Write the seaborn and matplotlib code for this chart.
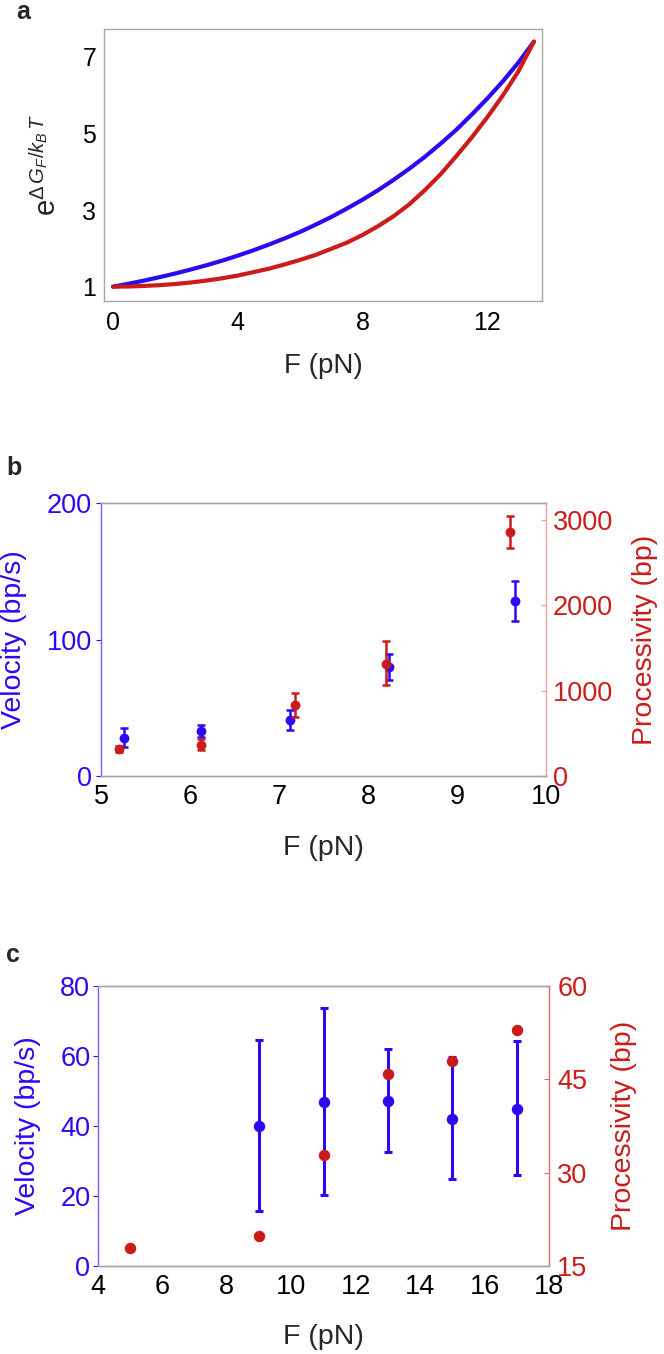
import numpy as np
import pandas as pd
import matplotlib
matplotlib.use("Agg")
import matplotlib.pyplot as plt
import seaborn as sns

# ---------------- data ----------------
# panel a : exp(dG_F / kBT) vs force
F_a = [0, 0.5, 1, 1.5, 2, 2.5, 3, 3.5, 4, 4.5, 5, 5.5, 6, 6.5, 7, 7.5, 8, 8.5,
       9, 9.5, 10, 10.5, 11, 11.5, 12, 12.5, 13, 13.5]
boltz_blue = [1.00, 1.077, 1.16, 1.25, 1.345, 1.45, 1.56, 1.68, 1.81, 1.95, 2.10, 2.26,
              2.43, 2.62, 2.82, 3.04, 3.27, 3.52, 3.79, 4.08, 4.39, 4.73, 5.09, 5.49,
              5.91, 6.36, 6.85, 7.40]
boltz_red = [1.00, 1.005, 1.02, 1.04, 1.07, 1.11, 1.16, 1.22, 1.29, 1.38, 1.47, 1.58,
             1.70, 1.83, 1.99, 2.15, 2.35, 2.58, 2.84, 3.15, 3.52, 3.93, 4.40, 4.89,
             5.42, 5.99, 6.62, 7.40]

# panel b
F_b_vel = [5.26, 6.12, 7.12, 8.24, 9.65]
vel_b = [28.0, 33.3, 40.9, 80.0, 128.2]
vel_b_lo = [21.0, 28.7, 33.8, 70.6, 113.6]
vel_b_hi = [35.0, 37.7, 48.2, 89.3, 142.8]
F_b_proc = [5.20, 6.12, 7.18, 8.20, 9.60]
proc_b = [319, 366, 829, 1316, 2861]
proc_b_lo = [285, 300, 693, 1063, 2671]
proc_b_hi = [352, 428, 973, 1577, 3052]

# panel c
F_c_vel = [9, 11, 13, 15, 17]
vel_c = [40.1, 47.0, 47.2, 42.0, 44.9]
vel_c_lo = [15.8, 20.3, 32.6, 24.8, 25.9]
vel_c_hi = [64.5, 73.8, 62.1, 59.7, 64.2]
F_c_proc = [5, 9, 11, 13, 15, 17]
proc_c = [17.95, 19.9, 32.9, 45.9, 47.9, 52.97]

# tick labels
a_xticks = [0, 4, 8, 12]
a_yticks = [1, 3, 5, 7]
b_xticks = [5, 6, 7, 8, 9, 10]
b_vticks = [0, 100, 200]
b_pticks = [0, 1000, 2000, 3000]
c_xticks = [4, 6, 8, 10, 12, 14, 16, 18]
c_vticks = [0, 20, 40, 60, 80]
c_pticks = [15, 30, 45, 60]

# ---------------- style ----------------
sns.set_style("white")
plt.rcParams["font.family"] = ["Liberation Sans", "DejaVu Sans"]
plt.rcParams["mathtext.fontset"] = "custom"
plt.rcParams["mathtext.rm"] = "Liberation Sans"
plt.rcParams["mathtext.it"] = "Liberation Sans:italic"
plt.rcParams["mathtext.bf"] = "Liberation Sans:bold"

BLUE = "#2a0af5"
RED = "#cc1b1b"
GRAY = "#a6a6a6"
BLUE_SP = "#6f62f7"
RED_SP_B = "#efa0a0"
RED_SP_C = "#e06a6a"

W, H = 664, 1354
fig = plt.figure(figsize=(W / 100, H / 100), dpi=100)


def rect(l, r, t, b):
    return [l / W, (H - b) / H, (r - l) / W, (b - t) / H]


def frame(ax):
    for s in ax.spines.values():
        s.set_visible(True)
        s.set_color(GRAY)
        s.set_linewidth(1.0)


# ---------------- panel a ----------------
axa = fig.add_axes(rect(104, 542, 29, 301))
df_a = pd.DataFrame({"F": F_a, "blue": boltz_blue, "red": boltz_red})
sns.lineplot(data=df_a, x="F", y="blue", ax=axa, color=BLUE, lw=3, estimator=None)
sns.lineplot(data=df_a, x="F", y="red", ax=axa, color=RED, lw=3, estimator=None)
for ln in axa.lines:
    ln.set_solid_joinstyle("round")
axa.set_xlim(-0.29, 13.76)
axa.set_ylim(0.626, 7.73)
axa.set_xticks(a_xticks)
axa.set_yticks(a_yticks)
frame(axa)
axa.tick_params(axis="y", direction="out", length=3.5, width=0.8, color=GRAY,
                pad=2, labelsize=18, labelcolor="black")
axa.tick_params(axis="x", direction="in", length=3.5, width=0.8, color=GRAY,
                pad=7, labelsize=18, labelcolor="black")
axa.set_xlabel("F (pN)", fontsize=20)
axa.xaxis.set_label_coords(0.5, -0.24)
axa.xaxis.label.set_va("center")
axa.set_ylabel(r"$\mathrm{e}^{\Delta\,G_F/k_B\,T}$", fontsize=21)
axa.yaxis.set_label_coords(-0.13, 0.5)
axa.yaxis.label.set_va("center")

# ---------------- panel b ----------------
axb = fig.add_axes(rect(101, 546, 503, 776))
axb2 = axb.twinx()
v_b = np.array(vel_b)
axb.errorbar(F_b_vel, vel_b,
             yerr=[v_b - np.array(vel_b_lo), np.array(vel_b_hi) - v_b],
             fmt="none", ecolor=BLUE, elinewidth=1.8, capsize=2.6, capthick=1.8)
sns.scatterplot(x=F_b_vel, y=vel_b, ax=axb, color=BLUE, s=50, linewidth=0, zorder=3)
p_b = np.array(proc_b)
axb2.errorbar(F_b_proc, proc_b,
              yerr=[p_b - np.array(proc_b_lo), np.array(proc_b_hi) - p_b],
              fmt="none", ecolor=RED, elinewidth=1.8, capsize=2.6, capthick=1.8)
sns.scatterplot(x=F_b_proc, y=proc_b, ax=axb2, color=RED, s=50, linewidth=0, zorder=3)
axb.set_xlim(5, 10)
axb.set_ylim(0, 200)
axb2.set_ylim(0, 3200)
axb.set_xticks(b_xticks)
axb.set_yticks(b_vticks)
axb2.set_yticks(b_pticks)
frame(axb)
frame(axb2)
axb.spines["left"].set_color(BLUE_SP)
axb2.spines["left"].set_visible(False)
axb2.spines["right"].set_color(RED_SP_B)
axb.spines["right"].set_visible(False)
axb.tick_params(axis="y", direction="out", length=3.5, width=0.8, colors=BLUE,
                pad=3, labelsize=19.5)
axb.tick_params(axis="x", direction="in", length=3.5, width=0.8, color=GRAY,
                pad=6, labelsize=19.5, labelcolor="black")
axb2.tick_params(axis="y", direction="in", length=3.5, width=0.8, color=RED_SP_B,
                 labelcolor=RED, pad=5, labelsize=19.5)
axb.set_xlabel("F (pN)", fontsize=20.5)
axb.xaxis.set_label_coords(0.5, -0.264)
axb.xaxis.label.set_va("center")
axb.set_ylabel("Velocity (bp/s)", fontsize=20.5, color=BLUE)
axb.yaxis.set_label_coords(-0.1955, 0.5)
axb.yaxis.label.set_va("center")
axb2.set_ylabel("Processivity (bp)", fontsize=20.5, color=RED, rotation=90)
axb2.yaxis.set_label_coords(1.2225, 0.5)
axb2.yaxis.label.set_va("center")

# ---------------- panel c ----------------
axc = fig.add_axes(rect(98, 549, 986, 1266))
axc2 = axc.twinx()
v_c = np.array(vel_c)
axc.errorbar(F_c_vel, vel_c,
             yerr=[v_c - np.array(vel_c_lo), np.array(vel_c_hi) - v_c],
             fmt="none", ecolor=BLUE, elinewidth=2.2, capsize=2.6, capthick=2.2)
sns.scatterplot(x=F_c_vel, y=vel_c, ax=axc, color=BLUE, s=68, linewidth=0, zorder=3)
sns.scatterplot(x=F_c_proc, y=proc_c, ax=axc2, color=RED, s=68, linewidth=0, zorder=3)
axc.set_xlim(4, 18)
axc.set_ylim(0, 80)
axc2.set_ylim(15, 60)
axc.set_xticks(c_xticks)
axc.set_yticks(c_vticks)
axc2.set_yticks(c_pticks)
frame(axc)
frame(axc2)
axc.spines["left"].set_color(BLUE_SP)
axc2.spines["left"].set_visible(False)
axc2.spines["right"].set_color(RED_SP_C)
axc.spines["right"].set_visible(False)
axc.tick_params(axis="y", direction="out", length=3.5, width=0.8, colors=BLUE,
                pad=2, labelsize=19.5)
axc.tick_params(axis="x", direction="in", length=3.5, width=0.8, color=GRAY,
                pad=6, labelsize=19.5, labelcolor="black")
axc2.tick_params(axis="y", direction="in", length=3.5, width=0.8, color=RED_SP_C,
                 labelcolor=RED, pad=6, labelsize=19.5)
axc.set_xlabel("F (pN)", fontsize=20.5)
axc.xaxis.set_label_coords(0.5, -0.254)
axc.xaxis.label.set_va("center")
axc.set_ylabel("Velocity (bp/s)", fontsize=20.5, color=BLUE)
axc.yaxis.set_label_coords(-0.155, 0.5)
axc.yaxis.label.set_va("center")
axc2.set_ylabel("Processivity (bp)", fontsize=20.5, color=RED, rotation=90)
axc2.yaxis.set_label_coords(1.166, 0.5)
axc2.yaxis.label.set_va("center")

# ---------------- panel letters ----------------
fig.text(16 / W, 1 - 19 / H, "a", fontsize=18, fontweight="bold", va="baseline", ha="left")
fig.text(6 / W, 1 - 475 / H, "b", fontsize=18, fontweight="bold", va="baseline", ha="left")
fig.text(6 / W, 1 - 962 / H, "c", fontsize=18, fontweight="bold", va="baseline", ha="left")

fig.savefig("out.png", dpi=100)
